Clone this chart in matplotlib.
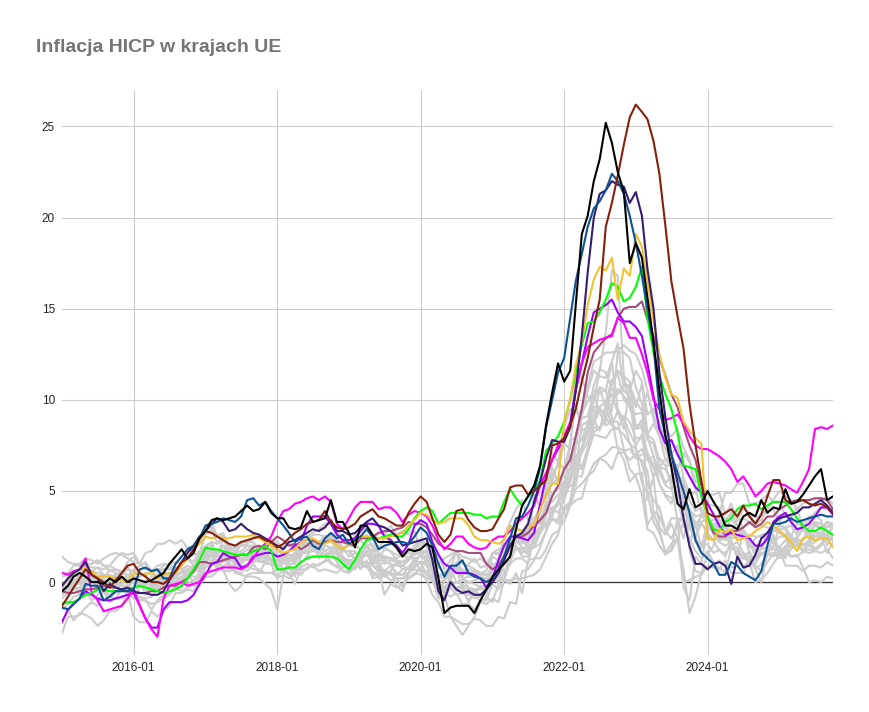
import matplotlib
matplotlib.use('Agg')
import matplotlib.pyplot as plt
import matplotlib.dates as mdates
import pandas as pd

# HICP inflation, % y/y, monthly 2015-01 .. 2025-10
start = '2015-01-01'

# highlighted countries
estonia = [-0.5,-0.2,0.3,0.5,0.3,0.0,0.0,-0.1,0.2,0.0,0.3,0.0,
           0.2,0.1,0.0,0.1,0.3,0.5,1.0,1.4,1.8,1.3,1.6,2.4,
           2.8,3.4,3.5,3.4,3.5,3.6,3.9,4.2,3.9,4.0,4.4,3.8,
           3.5,3.5,3.0,2.9,3.0,3.9,3.3,3.4,3.5,4.5,3.3,3.3,
           2.7,1.9,3.1,3.1,2.6,2.2,2.2,2.2,1.9,1.4,1.8,1.7,
           1.8,2.1,1.9,0.2,-1.7,-1.4,-1.3,-1.3,-1.3,-1.7,-1.0,-0.4,
           0.3,0.7,1.0,1.4,2.9,4.2,4.7,5.3,6.4,8.6,10.4,12.0,
           11.0,11.6,15.2,19.1,20.1,22.0,23.2,25.2,24.1,22.5,21.4,17.5,
           18.6,17.8,15.6,13.2,10.5,8.0,6.3,4.3,4.0,5.1,4.1,4.3,
           5.0,4.4,3.9,3.1,3.1,2.9,3.6,3.8,3.6,4.5,3.8,4.1,
           4.0,5.1,4.3,4.4,4.8,5.3,5.8,6.2,4.5,4.7]
hungary = [-1.3,-0.8,-0.3,0.2,0.7,0.4,0.2,0.0,-0.3,0.1,0.5,0.9,
           1.0,0.5,0.3,0.0,0.0,-0.1,0.2,0.6,1.1,1.3,1.8,2.4,
           2.8,2.7,2.5,2.3,2.1,2.0,2.2,2.3,2.4,2.5,2.3,2.2,
           1.9,2.1,2.4,2.7,2.9,3.2,3.3,3.4,3.9,3.3,3.0,2.9,
           3.0,3.2,3.6,3.8,4.0,3.6,3.5,3.3,3.1,3.1,3.8,4.3,
           4.7,4.4,3.5,2.6,2.2,2.6,3.9,4.0,3.4,3.0,2.8,2.8,
           2.9,3.5,4.0,5.2,5.3,5.3,4.8,5.0,5.3,5.6,7.5,7.6,
           7.9,8.6,9.5,11.0,12.3,14.0,15.5,19.5,20.8,22.3,24.0,25.5,
           26.2,25.8,25.4,24.2,22.4,19.5,16.5,14.6,12.8,9.8,7.5,5.5,
           3.8,3.6,3.6,3.8,4.0,3.6,4.2,3.6,3.2,3.7,4.7,5.6,
           5.6,4.5,4.3,4.4,4.5,4.3,4.2,4.3,4.1,3.8]
lithuania = [-1.4,-1.5,-1.2,-0.9,-0.1,-0.2,-0.2,-1.0,-0.8,-0.5,-0.5,-0.5,
             -0.4,0.7,0.8,0.6,0.7,0.2,0.2,1.0,1.4,1.8,2.0,2.4,
             3.1,3.2,3.3,3.5,3.4,3.3,3.6,4.5,4.6,4.2,4.4,3.9,
             3.5,3.1,2.7,2.2,2.4,2.5,2.0,1.8,2.4,2.7,2.4,2.6,
             2.1,2.3,2.5,2.9,2.5,1.8,2.0,2.1,2.2,2.2,2.1,2.5,
             3.0,2.7,2.0,1.0,0.3,0.9,0.9,1.2,0.5,0.3,0.2,0.0,
             0.2,0.7,1.4,2.4,3.5,3.6,4.2,5.0,6.3,8.5,10.0,11.5,
             12.3,14.5,16.5,18.0,19.5,20.5,20.9,21.5,22.4,22.0,21.3,20.1,
             18.6,16.8,15.0,13.0,9.5,8.0,7.0,6.0,5.0,3.8,2.3,1.6,
             1.3,1.0,0.4,0.4,1.1,0.9,0.5,0.3,0.1,0.6,2.0,3.2,
             3.2,3.3,3.5,3.3,3.4,3.5,3.6,3.7,3.6,3.6]
latvia = [-0.2,0.2,0.5,0.7,1.1,0.4,0.2,-0.5,-0.1,-0.3,-0.4,-0.3,
          -0.5,-0.6,-0.6,-0.7,-0.7,-0.5,0.1,0.6,1.1,1.6,2.0,2.5,
          2.8,3.2,3.5,3.3,2.8,2.9,3.2,2.9,2.7,2.6,2.4,2.2,
          2.0,1.8,2.2,2.3,2.5,2.7,2.9,2.8,3.0,3.4,2.8,2.8,
          2.6,2.7,3.0,3.3,3.5,3.1,3.0,2.8,2.5,2.0,2.1,2.2,
          2.3,2.4,1.2,-0.5,-1.0,0.0,-0.4,-0.6,-0.5,-0.7,-0.7,-0.4,
          0.0,0.5,1.2,2.0,2.5,2.7,3.2,4.4,5.5,6.8,7.8,7.7,
          7.7,8.5,10.5,13.5,17.0,20.0,21.3,21.5,22.0,21.8,21.7,20.8,
          21.4,20.1,17.2,15.0,11.5,9.0,7.0,5.5,3.5,2.0,1.0,1.0,
          0.7,1.0,1.1,0.9,-0.1,1.4,0.8,0.9,1.5,2.4,2.7,3.2,
          3.5,3.6,3.7,3.8,4.1,4.1,4.3,4.5,4.2,3.8]
czechia = [-0.2,0.2,0.5,0.7,0.8,0.6,0.3,0.3,0.3,0.2,0.1,0.0,
           0.5,0.4,0.4,0.6,0.2,0.4,0.5,0.5,0.9,1.3,1.8,2.1,
           2.5,2.4,2.5,2.4,2.4,2.5,2.5,2.5,2.6,2.4,2.2,2.0,
           1.8,1.6,1.7,1.8,2.2,2.3,2.4,2.2,2.1,2.3,2.0,1.8,
           2.1,2.2,2.5,2.5,2.5,2.4,2.4,2.5,2.6,2.7,3.1,3.4,
           3.8,3.7,3.4,3.2,3.3,3.5,3.5,3.5,3.1,2.5,2.3,2.3,
           2.2,2.1,2.3,3.1,2.9,2.8,3.1,3.1,4.0,4.8,5.4,5.4,
           8.8,10.0,11.9,13.2,15.2,16.6,17.3,17.1,17.8,15.5,17.2,16.8,
           19.1,18.4,16.5,14.3,12.5,11.2,10.3,10.1,8.8,8.3,7.9,7.6,
           2.4,2.3,2.9,2.7,2.9,2.3,2.4,2.5,2.8,3.0,3.3,3.1,
           2.8,2.5,2.2,1.7,2.4,2.5,2.3,2.4,2.4,1.9]
poland = [-1.2,-1.1,-1.1,-0.9,-0.7,-0.6,-0.4,-0.4,-0.5,-0.5,-0.4,-0.4,
          -0.3,-0.2,-0.3,-0.4,-0.5,-0.6,-0.5,-0.4,-0.2,0.2,0.7,1.2,
          1.9,1.8,1.8,1.7,1.6,1.5,1.5,1.5,1.7,1.8,2.0,1.7,
          0.7,0.7,0.8,0.8,1.1,1.3,1.4,1.4,1.4,1.4,1.3,1.0,
          0.7,1.2,1.8,2.3,2.4,2.4,2.5,2.6,2.5,2.5,2.9,3.5,
          3.9,4.1,3.9,3.2,3.5,3.8,3.8,3.8,3.8,3.7,3.7,3.5,
          3.6,3.6,4.4,5.1,4.6,4.2,4.7,5.0,5.6,7.2,7.6,8.0,
          8.8,10.0,11.5,13.0,14.2,14.3,14.8,15.5,16.4,16.2,15.4,15.6,
          16.2,17.3,14.5,12.6,11.3,10.3,9.5,8.2,6.4,6.3,6.2,4.7,
          3.6,2.9,2.8,3.3,3.5,4.0,4.2,4.2,4.3,4.0,4.2,4.4,
          4.4,4.4,4.0,3.5,3.1,2.8,2.8,3.0,2.8,2.6]
romania = [0.5,0.4,0.6,0.7,1.3,-0.6,-1.0,-1.6,-1.5,-1.4,-1.3,-0.9,
           -0.4,-1.3,-2.0,-2.6,-3.0,-0.9,-0.2,-0.1,0.0,-0.2,-0.1,0.0,
           0.5,0.6,0.7,0.8,0.8,0.8,0.7,0.9,1.3,1.8,2.1,2.5,
           3.3,3.9,4.0,4.3,4.4,4.6,4.7,4.5,4.7,4.4,3.2,2.9,
           3.5,4.1,4.4,4.4,4.4,4.0,4.1,4.1,3.8,3.3,3.7,3.9,
           3.8,3.6,3.1,2.3,1.8,2.1,2.5,2.5,2.1,1.9,1.8,1.9,
           2.3,2.5,2.5,2.8,3.2,3.5,3.8,4.2,5.3,6.0,6.7,7.5,
           8.0,8.8,10.6,12.0,12.9,13.1,13.3,13.4,13.5,14.5,14.2,13.4,
           13.4,12.5,11.5,10.0,9.5,8.9,9.0,9.2,8.7,8.0,7.5,7.3,
           7.3,7.1,6.9,6.6,6.2,5.5,5.8,5.3,4.7,5.0,5.4,5.5,
           5.4,5.3,5.1,4.9,5.5,6.2,8.4,8.5,8.4,8.6]
bulgaria = [-2.2,-1.5,-1.2,-0.9,-0.5,-0.7,-0.9,-1.0,-1.0,-0.9,-0.8,-0.7,
            -0.6,-1.3,-2.0,-2.5,-2.5,-1.5,-1.1,-1.1,-1.1,-1.0,-0.7,-0.1,
            0.4,1.0,1.1,1.6,1.4,1.3,0.8,0.9,1.4,1.5,1.6,1.6,
            1.4,1.5,1.7,2.0,2.2,3.1,3.6,3.6,3.6,3.2,2.6,2.3,
            2.3,2.4,2.8,3.2,3.2,3.1,2.5,2.3,2.0,1.6,2.1,3.1,
            3.4,3.2,2.2,1.5,1.0,0.8,0.5,0.5,0.5,0.4,0.2,-0.3,
            0.2,1.2,2.0,2.5,2.5,2.4,2.3,2.7,4.3,5.8,6.7,7.3,
            7.8,8.6,10.5,12.0,13.5,14.8,15.0,15.2,15.5,14.8,14.3,14.3,
            14.0,13.5,12.0,10.2,8.4,7.6,7.8,7.0,6.4,5.8,5.2,4.9,
            4.3,3.7,3.1,2.6,2.7,2.6,2.5,2.4,2.0,2.0,2.4,3.3,
            3.6,3.8,3.3,2.9,3.0,3.2,3.6,4.1,4.1,3.7]
slovakia = [-0.5,-0.6,-0.6,-0.5,-0.4,-0.4,-0.3,-0.2,-0.3,-0.3,-0.4,-0.5,
            -0.6,-0.6,-0.6,-0.5,-0.5,-0.3,-0.2,-0.2,0.0,0.2,0.6,1.1,
            1.1,1.0,1.1,1.2,1.3,1.4,1.5,1.5,1.9,2.0,1.8,2.2,
            2.5,2.3,2.0,2.1,1.8,2.0,2.3,2.1,2.2,2.3,2.2,2.2,
            2.1,2.0,2.4,2.4,2.5,2.7,2.8,2.8,2.9,3.0,3.3,3.2,
            3.2,3.0,2.6,2.1,1.9,1.8,1.7,1.7,1.6,1.6,1.6,1.0,
            0.7,0.9,1.4,2.0,2.5,2.5,2.7,3.1,3.4,3.8,4.7,5.3,
            6.2,6.7,8.0,9.5,11.5,12.6,13.0,13.4,13.6,14.5,15.0,15.1,
            15.1,15.4,14.4,13.5,12.3,11.3,10.3,9.6,8.5,7.5,6.7,5.3,
            3.6,2.7,2.5,2.5,2.8,2.8,3.0,3.3,3.0,3.2,3.6,3.6,
            4.0,4.2,4.4,4.5,4.5,4.5,4.6,4.6,4.5,4.0]

# other EU countries (grey)
germany = [-0.5,0.0,0.1,0.3,0.7,0.1,0.1,0.1,-0.2,0.2,0.3,0.2,
           0.4,-0.2,0.1,-0.3,0.0,0.2,0.4,0.3,0.5,0.7,0.7,1.7,
           1.9,2.2,1.5,2.0,1.4,1.5,1.5,1.8,1.8,1.5,1.8,1.6,
           1.4,1.2,1.5,1.4,2.2,2.1,2.1,1.9,2.2,2.6,2.2,1.7,
           1.7,1.7,1.4,2.1,1.3,1.5,1.1,1.0,0.9,0.9,1.2,1.5,
           1.6,1.7,1.3,0.8,0.5,0.8,0.0,-0.1,-0.4,-0.5,-0.7,-0.7,
           1.6,1.6,2.0,2.1,2.4,2.1,3.1,3.4,4.1,4.6,6.0,5.7,
           5.1,5.5,7.6,7.8,8.7,8.2,8.5,8.8,10.9,11.6,11.3,9.6,
           9.2,9.3,7.8,7.6,6.3,6.8,6.5,6.4,4.3,3.0,2.3,3.8,
           3.1,2.7,2.3,2.4,2.8,2.5,2.6,2.0,1.8,2.4,2.4,2.8,
           2.8,2.6,2.3,2.2,2.1,2.0,1.8,2.1,2.4,2.3]
france = [-0.4,-0.3,0.0,0.1,0.3,0.3,0.2,0.1,0.1,0.2,0.1,0.3,
          0.3,-0.1,-0.1,-0.1,0.1,0.3,0.4,0.4,0.5,0.5,0.7,0.8,
          1.6,1.4,1.4,1.4,0.9,0.8,0.8,1.0,1.1,1.2,1.2,1.2,
          1.5,1.3,1.7,1.8,2.3,2.3,2.6,2.6,2.5,2.5,2.2,1.9,
          1.4,1.6,1.3,1.5,1.1,1.4,1.3,1.3,1.1,0.9,1.2,1.6,
          1.7,1.6,0.8,0.4,0.4,0.2,0.9,0.2,0.0,0.1,0.2,0.0,
          0.8,0.8,1.4,1.6,1.8,1.9,1.5,2.4,2.7,3.2,3.4,3.4,
          3.3,4.2,5.1,5.4,5.8,6.5,6.8,6.6,6.2,7.1,7.1,6.7,
          7.0,7.3,6.7,6.9,6.0,5.3,5.1,5.7,5.7,4.5,3.9,4.1,
          3.4,3.2,2.4,2.4,2.6,2.5,2.7,2.2,1.4,1.6,1.7,1.8,
          1.8,0.9,0.9,0.9,0.6,0.9,0.9,0.8,1.1,0.9]
italy = [-0.5,0.1,0.0,-0.1,0.2,0.2,0.3,0.4,0.2,0.3,0.1,0.1,
         0.4,-0.2,-0.2,-0.4,-0.3,-0.2,-0.2,-0.1,0.1,-0.1,0.1,0.5,
         1.0,1.6,1.4,2.0,1.6,1.2,1.2,1.4,1.3,1.1,1.1,1.0,
         1.2,0.7,0.9,0.6,1.0,1.4,1.9,1.6,1.5,1.7,1.6,1.2,
         0.9,1.1,1.1,1.1,0.9,0.8,0.3,0.5,0.2,0.2,0.2,0.5,
         0.4,0.2,0.1,0.1,-0.3,0.2,0.8,-0.5,-1.0,-0.6,-0.3,-0.3,
         0.7,1.0,0.6,1.0,1.3,1.3,1.0,2.5,2.9,3.2,3.9,4.2,
         5.1,6.2,6.8,6.3,7.3,8.5,8.4,9.1,9.4,12.6,12.6,12.3,
         10.7,9.8,8.1,8.7,8.0,6.7,6.3,5.5,5.6,1.8,0.6,0.5,
         0.9,0.8,1.2,0.9,0.8,0.9,1.6,1.2,0.7,1.0,1.5,1.4,
         1.7,1.7,2.1,2.0,1.7,1.8,1.7,1.6,1.8,1.3]
spain = [-1.5,-1.2,-0.8,-0.7,-0.3,0.0,0.0,-0.5,-1.1,-0.9,-0.4,-0.1,
         -0.4,-1.0,-1.0,-1.2,-1.1,-0.9,-0.7,-0.3,0.0,0.5,0.5,1.4,
         2.9,3.0,2.1,2.6,2.0,1.6,1.7,2.0,1.8,1.7,1.8,1.2,
         0.7,1.2,1.3,1.1,2.1,2.3,2.3,2.2,2.3,2.3,1.7,1.2,
         1.0,1.1,1.3,1.6,0.9,0.6,0.6,0.4,0.2,0.2,0.5,0.8,
         1.1,0.9,0.1,-0.7,-0.9,-0.3,-0.7,-0.6,-0.6,-0.9,-0.8,-0.6,
         0.4,-0.1,1.2,2.0,2.4,2.5,2.9,3.3,4.0,5.4,5.5,6.6,
         6.2,7.6,9.8,8.3,8.5,10.0,10.7,10.5,9.0,7.3,6.7,5.5,
         5.9,6.0,3.1,3.8,2.9,1.6,2.1,2.4,3.3,3.5,3.3,3.3,
         3.5,2.9,3.2,3.4,3.8,3.6,2.9,2.4,1.7,1.8,2.4,2.8,
         2.9,2.9,2.2,2.2,2.0,2.3,2.7,2.7,3.0,3.2]
netherlands = [-0.7,-0.4,0.1,0.3,0.6,0.6,0.8,0.4,0.3,0.4,0.5,0.4,
               0.2,0.3,0.5,-0.2,-0.2,-0.2,-0.2,0.2,0.1,0.4,0.6,0.7,
               1.6,1.7,0.7,1.6,0.8,1.0,1.5,1.5,1.5,1.3,1.5,1.2,
               1.4,1.3,1.0,1.0,1.8,1.7,2.1,2.1,1.7,1.9,1.8,1.8,
               2.0,2.6,2.9,3.0,2.3,2.7,2.6,3.1,2.6,2.8,2.6,2.8,
               1.7,1.7,1.1,1.0,1.3,1.5,1.7,0.3,1.0,1.3,0.8,0.9,
               1.6,1.8,1.9,1.7,2.0,1.4,1.4,2.7,3.0,3.7,5.9,6.4,
               7.6,7.3,11.7,11.2,10.2,9.9,11.6,13.7,17.1,16.8,11.3,11.0,
               8.4,8.9,4.5,5.8,6.8,6.4,5.3,3.4,-0.3,-1.0,1.4,1.0,
               3.1,2.7,3.1,2.7,2.7,3.4,3.5,3.3,3.3,3.8,3.9,4.0,
               3.3,3.8,3.5,4.1,2.9,2.8,3.1,2.9,3.3,3.0]
belgium = [-0.6,-0.4,-0.1,0.0,0.9,1.0,1.2,0.9,0.9,1.3,1.6,1.5,
           1.6,1.0,1.6,1.7,2.1,2.1,2.3,2.1,2.3,1.9,1.8,2.2,
           3.1,3.3,2.5,2.7,1.9,1.7,2.0,2.0,2.0,1.9,2.1,2.1,
           1.8,1.5,1.5,1.5,2.0,2.5,2.7,2.9,3.2,3.2,2.9,2.2,
           2.1,2.2,2.3,1.9,1.6,1.2,1.2,1.0,0.4,0.4,0.5,0.9,
           1.6,1.4,0.8,0.3,0.2,0.7,1.7,1.0,0.9,0.7,0.5,0.4,
           0.6,0.3,1.6,2.0,2.6,2.6,1.9,4.8,4.1,5.4,7.1,6.6,
           8.5,9.5,9.3,9.3,9.9,10.5,10.4,10.5,12.1,13.1,10.5,10.2,
           7.4,5.4,4.9,3.3,2.7,1.6,1.7,2.4,0.7,-1.7,-0.8,0.5,
           1.5,2.0,3.8,4.9,4.9,5.4,5.4,4.3,4.3,4.5,4.8,4.4,
           4.4,3.6,3.4,2.8,2.9,2.4,2.5,2.6,2.6,3.0]
austria = [0.5,0.5,0.9,0.9,1.0,1.0,1.2,0.9,0.6,0.7,0.5,1.1,
           1.4,1.0,0.7,0.6,0.6,0.7,0.8,0.6,1.1,1.3,1.5,1.6,
           2.0,2.2,2.1,2.3,2.1,1.9,2.0,2.1,2.5,2.4,2.3,2.3,
           2.2,1.9,2.1,2.0,2.0,2.1,2.1,2.0,2.2,2.2,2.3,1.7,
           1.7,1.3,1.6,1.6,1.4,1.5,1.4,1.3,1.2,1.1,1.3,1.8,
           2.2,2.2,1.6,1.5,0.7,1.2,1.7,1.4,1.3,1.1,1.3,1.0,
           1.4,1.2,2.0,1.9,3.0,2.8,2.9,3.2,3.2,3.8,4.1,3.8,
           4.5,5.5,6.6,7.1,7.7,8.7,9.4,9.2,11.0,11.6,11.1,10.5,
           11.6,11.0,9.2,9.5,8.7,7.8,7.0,7.5,5.7,4.9,4.9,5.7,
           4.3,4.2,4.1,3.4,3.4,3.1,2.8,2.4,1.8,1.8,1.9,1.9,
           3.1,3.0,2.5,3.2,3.1,3.4,3.8,4.1,4.0,4.0]
finland = [-0.1,-0.1,0.0,-0.1,0.0,0.0,-0.2,-0.1,-0.3,-0.2,-0.2,-0.2,
           0.0,-0.1,0.0,0.3,0.3,0.5,0.5,0.4,0.6,0.7,0.9,1.1,
           1.2,1.6,0.7,0.9,0.8,0.6,0.5,0.9,0.7,0.7,0.5,0.5,
           0.7,0.6,0.9,0.7,1.0,1.4,1.4,1.4,1.4,1.6,1.3,1.3,
           1.2,1.2,1.2,1.6,1.3,1.1,1.0,1.2,1.1,0.9,0.7,1.1,
           1.1,1.0,0.6,-0.1,-0.3,0.1,0.8,0.2,0.3,0.3,0.3,0.2,
           1.0,0.9,1.5,2.1,2.3,1.9,1.8,1.9,2.1,2.8,3.5,3.2,
           4.1,4.4,5.8,5.8,7.1,8.1,8.0,7.9,8.4,8.4,9.1,8.8,
           7.9,7.9,6.7,6.3,6.3,5.4,5.9,4.7,3.1,2.4,1.7,1.3,
           1.7,1.1,0.7,1.2,0.5,0.5,0.5,1.2,1.0,1.6,1.5,1.6,
           1.3,1.5,2.2,2.0,1.8,2.0,2.2,2.4,2.6,2.6]
ireland = [-0.6,-0.4,-0.3,-0.4,0.0,0.2,0.2,0.2,-0.1,0.0,-0.1,0.2,
           0.0,-0.2,-0.5,-0.2,-0.1,0.1,0.4,-0.3,-0.5,-0.3,-0.2,-0.2,
           0.3,0.3,0.6,0.7,-0.1,-0.5,-0.2,0.4,0.5,0.5,0.5,0.5,
           0.3,0.7,0.5,-0.1,0.7,0.7,1.0,0.9,1.2,1.1,0.8,0.8,
           0.8,0.7,1.1,1.7,1.0,1.1,0.5,0.6,1.1,0.7,0.8,1.1,
           1.1,1.1,0.5,-0.3,-0.6,-0.8,-0.6,-1.2,-1.2,-1.5,-1.0,-1.0,
           -0.1,-0.4,0.1,1.1,1.9,1.6,2.2,3.0,3.8,5.1,5.4,5.7,
           5.0,5.7,6.9,7.3,8.2,9.6,9.6,9.0,8.6,9.4,9.0,8.2,
           7.5,8.1,7.0,6.3,5.4,4.8,4.6,4.9,5.0,3.6,2.5,3.2,
           2.7,2.3,1.7,1.6,2.0,1.5,1.5,1.1,0.0,0.1,0.5,1.0,
           1.5,1.4,1.8,2.1,1.7,1.6,1.7,2.0,2.7,3.0]
greece = [-2.8,-1.9,-1.9,-1.8,-1.4,-1.1,-1.3,-0.4,-0.8,-0.1,-0.1,0.4,
          0.0,0.1,-0.7,-0.4,0.2,0.3,0.2,0.2,-0.1,0.6,-0.1,0.3,
          1.5,1.4,1.7,1.6,1.5,0.9,0.9,0.6,1.0,0.5,1.1,1.0,
          0.2,0.4,0.2,0.5,0.8,1.0,0.8,1.0,1.1,1.8,1.1,0.6,
          0.5,0.8,1.0,1.1,0.6,0.2,0.4,0.1,0.2,-0.3,0.5,1.1,
          1.1,0.4,0.2,-0.9,-0.7,-1.9,-2.1,-2.3,-2.3,-2.0,-2.1,-2.4,
          -2.4,-1.9,-2.0,-1.1,-1.2,0.6,0.7,1.2,1.9,2.8,4.0,4.4,
          5.5,6.3,8.0,9.1,10.5,11.6,11.3,11.2,12.1,9.5,8.8,7.6,
          7.3,6.5,5.4,4.5,4.1,2.8,3.5,3.5,2.4,3.8,3.0,3.7,
          3.2,3.1,3.4,3.2,2.4,2.5,3.0,3.2,3.1,3.1,3.0,2.9,
          3.1,3.0,3.1,2.6,3.3,3.6,3.7,3.4,2.0,2.6]
portugal = [-0.4,-0.1,0.4,0.5,0.9,0.8,0.8,0.7,0.9,0.7,0.6,0.3,
            0.7,0.3,0.5,0.4,0.4,0.7,0.7,0.8,0.7,0.9,0.6,0.9,
            1.3,1.6,1.4,2.4,1.7,1.0,1.0,1.3,1.6,1.9,1.8,1.6,
            1.1,0.7,0.8,0.3,1.4,2.0,2.2,1.3,1.8,1.0,0.9,0.6,
            0.6,0.9,0.8,0.9,0.3,0.7,-0.7,-0.1,-0.3,-0.1,0.2,0.4,
            0.8,0.4,0.1,-0.1,-0.6,0.2,-0.5,-0.2,-0.7,-0.6,-0.2,-0.3,
            0.2,0.3,0.1,-0.1,0.5,-0.6,1.2,1.3,1.3,1.8,2.6,2.8,
            3.4,4.4,5.5,7.4,8.1,9.0,9.4,9.3,9.8,10.6,10.2,9.8,
            8.6,8.6,8.0,6.9,5.4,4.7,4.3,5.3,4.8,3.2,2.2,1.9,
            2.5,2.3,2.6,2.3,3.8,3.1,2.7,1.9,2.4,2.6,2.7,3.1,
            2.7,2.5,1.9,2.1,1.7,2.1,2.5,2.5,1.6,2.2]
slovenia = [-0.6,-0.4,-0.2,-0.7,-0.5,-1.0,-0.7,-0.3,-0.8,-0.9,-0.9,-0.6,
            -0.9,-0.8,-0.9,-0.8,-0.4,-0.3,-0.1,-0.1,0.1,0.5,0.7,0.6,
            1.5,2.1,1.0,1.7,1.2,1.1,1.6,1.2,1.3,1.2,1.1,1.9,
            1.7,1.6,1.3,1.6,2.2,2.1,2.0,2.2,2.5,2.2,2.3,1.4,
            1.1,1.0,1.3,2.0,1.7,1.8,2.4,2.4,1.8,1.4,1.6,2.0,
            2.3,2.0,1.0,-0.3,-0.4,-0.3,-0.3,-0.2,-1.1,-0.6,-1.1,-1.2,
            -0.9,-1.1,0.1,1.7,2.2,2.2,2.0,2.1,2.7,3.6,4.9,5.1,
            6.0,7.0,6.0,7.4,8.7,10.8,11.7,11.5,10.6,10.3,10.8,10.8,
            9.9,9.4,10.4,9.2,8.1,7.3,6.3,6.2,7.1,6.6,5.1,3.8,
            3.4,3.4,3.4,2.9,2.0,2.2,1.6,1.4,0.7,0.0,1.6,2.0,
            1.9,2.3,2.0,2.5,1.6,2.3,3.2,3.0,3.3,2.9]
croatia = [-0.4,-0.5,-0.4,-0.3,0.1,0.0,-0.1,-0.4,-0.8,-0.6,-0.4,-0.6,
           -0.4,-0.9,-1.0,-1.5,-1.0,-0.7,-0.6,-0.2,-0.3,0.2,0.6,0.6,
           1.4,1.4,1.0,1.1,1.3,1.3,1.3,1.5,1.5,1.6,1.4,1.2,
           1.3,1.0,1.1,1.6,2.0,2.3,2.4,1.8,1.7,1.9,1.5,1.0,
           0.9,0.8,1.0,0.8,1.2,0.9,0.6,0.9,0.5,0.4,0.8,1.3,
           1.4,1.3,0.5,-0.3,-0.6,-0.2,0.0,0.1,0.0,-0.1,-0.3,-0.5,
           0.1,0.3,1.2,2.4,2.3,2.2,2.6,3.1,3.5,3.9,4.9,5.2,
           5.5,6.3,7.3,9.6,10.7,12.1,12.3,12.6,12.6,12.7,13.0,12.7,
           12.5,11.7,10.5,8.9,8.3,8.3,8.0,8.4,7.4,6.7,5.5,5.4,
           4.8,4.8,4.9,3.7,4.3,3.4,4.0,3.8,3.2,3.4,4.0,4.5,
           5.0,4.7,4.5,4.0,4.3,4.5,4.6,4.6,4.6,4.3]
cyprus = [-1.3,-1.5,-2.1,-1.7,-1.8,-2.0,-2.4,-2.1,-1.6,-1.6,-1.3,-0.6,
          -1.9,-2.2,-2.2,-1.6,-1.9,-1.6,-1.3,-0.6,-0.6,-0.4,-0.5,0.1,
          0.8,1.0,1.2,1.3,1.1,0.5,0.4,0.3,0.3,0.2,-0.1,-0.4,
          -1.5,0.4,1.3,1.0,1.6,1.6,2.3,2.2,2.1,2.6,1.9,1.7,
          1.7,1.2,0.7,1.2,0.2,0.3,0.3,0.6,-0.2,-0.5,0.5,0.7,
          0.6,0.1,-0.7,-1.1,-1.9,-1.9,-2.4,-2.9,-2.4,-1.9,-1.1,-0.8,
          -1.1,-0.1,0.5,1.2,2.4,2.2,2.9,3.0,3.3,4.4,4.4,4.8,
          5.0,5.8,6.2,8.6,8.8,9.0,10.6,9.6,8.6,8.4,8.1,7.6,
          6.8,6.7,6.1,3.9,3.6,2.8,2.4,3.1,3.7,3.5,2.4,1.9,
          2.1,1.6,1.8,1.4,2.3,1.3,2.8,1.6,1.2,1.9,2.3,2.4,
          1.5,2.0,1.4,1.5,0.8,0.0,0.1,0.0,0.3,0.2]
luxembourg = [-0.9,-0.6,0.1,0.1,0.5,0.3,0.3,-0.1,0.1,0.4,0.5,0.9,
              0.0,-0.6,-0.6,-0.3,-0.3,0.0,-0.1,0.0,0.2,0.5,0.8,1.6,
              2.6,2.9,2.6,2.6,1.7,1.5,2.1,2.3,2.2,1.8,1.8,1.8,
              1.3,1.1,1.2,1.2,2.0,2.1,1.8,2.1,2.1,2.5,2.4,1.9,
              2.0,2.1,2.4,2.6,1.9,1.3,1.8,1.7,1.2,1.1,1.3,1.8,
              2.1,2.0,0.9,-0.8,-0.7,0.4,1.1,0.2,-0.3,-0.4,-0.4,-0.3,
              0.7,1.3,2.5,3.3,4.0,4.5,3.4,3.5,4.0,5.3,6.3,5.4,
              4.6,7.8,7.9,9.0,9.1,10.3,9.3,8.6,8.8,8.8,7.3,6.2,
              5.8,4.8,2.9,2.7,2.0,1.5,1.8,3.5,3.4,2.1,3.2,3.2,
              2.9,3.2,3.2,2.5,2.0,1.9,1.3,1.7,0.9,0.6,1.1,1.6,
              1.5,1.9,2.4,2.3,2.3,2.8,2.2,2.6,3.3,3.2]
malta = [1.4,1.1,1.0,1.0,1.3,1.2,1.0,1.3,1.5,1.6,1.5,1.3,
         1.1,1.0,1.0,0.6,0.6,0.9,1.0,0.7,0.9,1.3,0.9,1.0,
         1.3,1.2,1.1,0.8,1.2,1.2,1.2,1.4,1.3,1.4,1.3,1.3,
         1.3,1.4,1.3,1.3,1.7,1.6,1.7,1.6,2.0,1.9,1.8,1.2,
         1.1,1.1,1.2,1.7,1.7,1.8,1.9,1.7,1.5,1.5,1.3,1.3,
         1.0,1.2,0.6,0.3,0.5,0.6,0.8,0.6,0.7,0.6,0.2,0.2,
         0.1,0.1,0.1,0.1,0.2,0.2,0.3,0.4,0.7,1.4,2.1,2.6,
         4.1,4.2,4.5,4.6,5.8,6.1,6.8,7.0,7.4,7.4,7.2,7.3,
         6.8,7.0,7.1,6.4,6.3,6.2,5.6,4.8,4.6,4.0,3.6,3.7,
         3.7,2.7,2.7,2.6,2.4,2.5,2.4,2.6,2.5,2.5,2.5,2.1,
         2.5,2.5,2.4,2.4,2.9,2.6,2.5,2.7,2.5,2.4]
sweden = [-0.3,0.3,0.4,0.3,0.3,0.2,0.1,0.2,0.7,0.5,0.4,0.7,
          0.6,0.9,1.1,0.6,0.9,1.0,1.0,1.1,1.0,1.3,1.1,1.7,
          1.6,1.9,1.6,2.0,1.7,1.9,2.2,2.2,2.2,1.7,1.8,1.7,
          1.6,1.8,2.1,1.8,2.0,2.1,2.2,2.1,2.5,2.5,2.0,2.2,
          2.0,2.0,1.8,2.0,2.1,1.6,1.4,1.3,1.3,1.5,1.3,1.8,
          1.5,1.1,0.8,-0.3,0.0,0.7,0.8,0.7,0.4,0.3,0.5,0.6,
          1.6,1.5,2.1,2.1,1.8,1.8,1.6,2.4,2.8,3.1,3.6,4.5,
          3.9,4.4,6.3,6.2,7.3,8.9,8.3,9.8,10.3,9.3,8.4,10.8,
          9.6,10.9,8.1,7.8,6.7,6.4,6.4,4.5,4.0,4.0,3.2,1.9,
          3.3,2.6,2.2,2.0,2.2,1.5,0.8,1.2,1.4,1.5,1.6,1.5,
          2.0,1.3,2.5,2.3,2.3,3.0,3.3,3.2,3.0,3.1]
denmark = [0.3,0.4,0.4,0.5,0.7,0.6,0.5,0.4,0.4,0.2,0.1,0.3,
           0.1,-0.1,0.0,-0.1,0.2,0.2,0.3,0.2,0.3,0.5,0.3,0.3,
           1.0,1.1,0.8,0.6,0.6,0.7,1.2,1.3,1.4,1.3,1.0,1.0,
           0.8,0.6,0.4,0.6,0.4,0.8,0.9,0.6,0.7,0.6,0.5,0.8,
           1.2,1.1,1.2,1.0,0.5,0.4,0.5,0.5,0.4,0.7,0.8,1.2,
           0.6,0.6,0.3,0.0,0.1,0.4,0.6,0.5,0.4,0.6,0.4,0.4,
           0.6,0.5,1.0,1.4,1.9,1.6,1.8,1.9,2.7,4.3,3.5,3.4,
           4.9,5.3,5.3,7.4,8.2,9.1,9.6,9.9,11.1,11.4,10.0,9.6,
           8.4,8.5,7.0,5.7,3.0,2.6,3.2,2.4,0.0,0.1,0.3,0.4,
           0.9,0.8,0.8,0.5,1.9,1.7,1.3,1.2,1.3,1.6,1.5,2.6,
           1.7,1.6,1.4,1.4,1.7,2.3,1.8,2.1,2.5,2.3]

grey_countries = [germany, france, italy, spain, netherlands, belgium, austria,
                  finland, ireland, greece, portugal, slovenia, croatia, cyprus,
                  luxembourg, malta, sweden, denmark]
highlighted = [(slovakia, '#a64d79'), (bulgaria, '#9900ff'), (romania, '#ff00ff'),
               (poland, '#00ff00'), (czechia, '#f1c232'), (latvia, '#351c75'),
               (lithuania, '#0b5394'), (hungary, '#85200c'), (estonia, '#000000')]

for s in grey_countries + [h[0] for h in highlighted]:
    assert len(s) == 130, len(s)

months = pd.date_range(start, periods=130, freq='MS')

fig = plt.figure(figsize=(8.7, 7.12), dpi=100)
ax = fig.add_axes([62 / 870, 1 - 655 / 712, 771 / 870, 565 / 712])

for s in grey_countries:
    ax.plot(months, s, color='#cccccc', lw=1.5, zorder=2)
for s, c in highlighted:
    ax.plot(months, s, color=c, lw=1.5, zorder=3)

ax.axhline(0, color='#333333', lw=0.9, zorder=1.5)
ax.set_xlim(months[0], months[-1])
ax.set_ylim(-4, 27)
ax.set_yticks([0, 5, 10, 15, 20, 25])
ax.xaxis.set_major_locator(mdates.YearLocator(2))
ax.xaxis.set_major_formatter(mdates.DateFormatter('%Y-%m'))
ax.grid(True, color='#cccccc', lw=0.8)
ax.set_axisbelow(True)
for sp in ax.spines.values():
    sp.set_visible(False)
ax.tick_params(length=0, labelsize=8.5, labelcolor='#222222', pad=5)
for lab in ax.get_xticklabels() + ax.get_yticklabels():
    lab.set_family('Liberation Sans')

fig.text(36 / 870, 1 - 48 / 712, 'Inflacja HICP w krajach UE', fontsize=14,
         fontweight='bold', color='#757575', family='Liberation Sans', va='center')

fig.savefig('out.png', dpi=100)
